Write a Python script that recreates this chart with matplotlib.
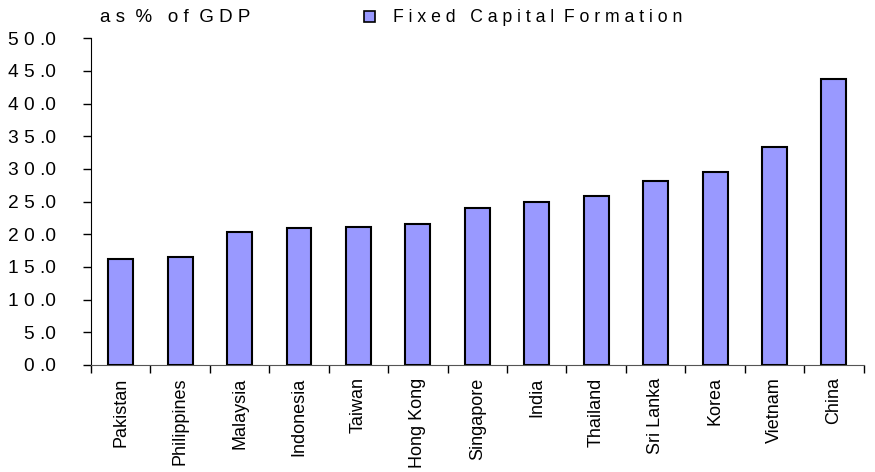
import matplotlib
matplotlib.use("Agg")
import matplotlib.pyplot as plt
from matplotlib import font_manager as fm
import numpy as np

countries = ["Pakistan", "Philippines", "Malaysia", "Indonesia", "Taiwan", "Hong Kong",
             "Singapore", "India", "Thailand", "Sri Lanka", "Korea", "Vietnam", "China"]
values = [16.2, 16.5, 20.4, 21.0, 21.1, 21.6, 24.0, 24.9, 25.9, 28.2, 29.5, 33.3, 43.8]
yticks = [0, 5, 10, 15, 20, 25, 30, 35, 40, 45, 50]
ytick_labels = ["0 .0", "5 .0", "1 0 .0", "1 5 .0", "2 0 .0", "2 5 .0", "3 0 .0",
                "3 5 .0", "4 0 .0", "4 5 .0", "5 0 .0"]
series_name = "F i x e d   C a p i t a l  F o r m a t i o n"
unit_label = "a s  %   o f  G D P"

names = {f.name for f in fm.fontManager.ttflist}
narrow = "Liberation Sans Narrow" if "Liberation Sans Narrow" in names else "Liberation Sans"
plt.rcParams["font.family"] = ["Liberation Sans", "DejaVu Sans"]

fig = plt.figure(figsize=(8.75, 4.72), dpi=100)
ax = fig.add_axes([0.104, 0.2267, 0.883, 0.6923])

x = np.arange(len(countries))
ax.bar(x, values, width=0.42, color="#9999FF", edgecolor="black", linewidth=1.5, zorder=3)

ax.set_xlim(-0.5, len(countries) - 0.5)
ax.set_ylim(0, 50)
ax.set_yticks(yticks)
ax.set_yticklabels(ytick_labels, fontsize=13.8, family=[narrow, "DejaVu Sans"])
ax.tick_params(axis="y", direction="out", length=6, width=1, pad=19)

ax.set_xticks(x)
ax.set_xticklabels(countries, rotation=90, fontsize=13, family=["Liberation Sans", "DejaVu Sans"])
ax.tick_params(axis="x", length=0, pad=9)
ax.set_xticks(np.arange(len(countries) + 1) - 0.5, minor=True)
ax.tick_params(axis="x", which="minor", direction="out", length=6, width=1, color="black")

for s in ["top", "right"]:
    ax.spines[s].set_visible(False)
ax.spines["left"].set_color("black")
ax.spines["bottom"].set_color("#555555")

fig.text(100 / 875, 1 - 17 / 472, unit_label, fontsize=13.5, family=[narrow, "DejaVu Sans"],
         ha="left", va="center")
fig.patches.append(plt.Rectangle((364 / 875, 1 - 22 / 472), 11 / 875, 11 / 472,
                                 transform=fig.transFigure, facecolor="#9999FF",
                                 edgecolor="black", linewidth=1.2))
fig.text(393 / 875, 1 - 17 / 472, series_name, fontsize=12.7, family=[narrow, "DejaVu Sans"],
         ha="left", va="center")

fig.savefig("out.png", dpi=100)
